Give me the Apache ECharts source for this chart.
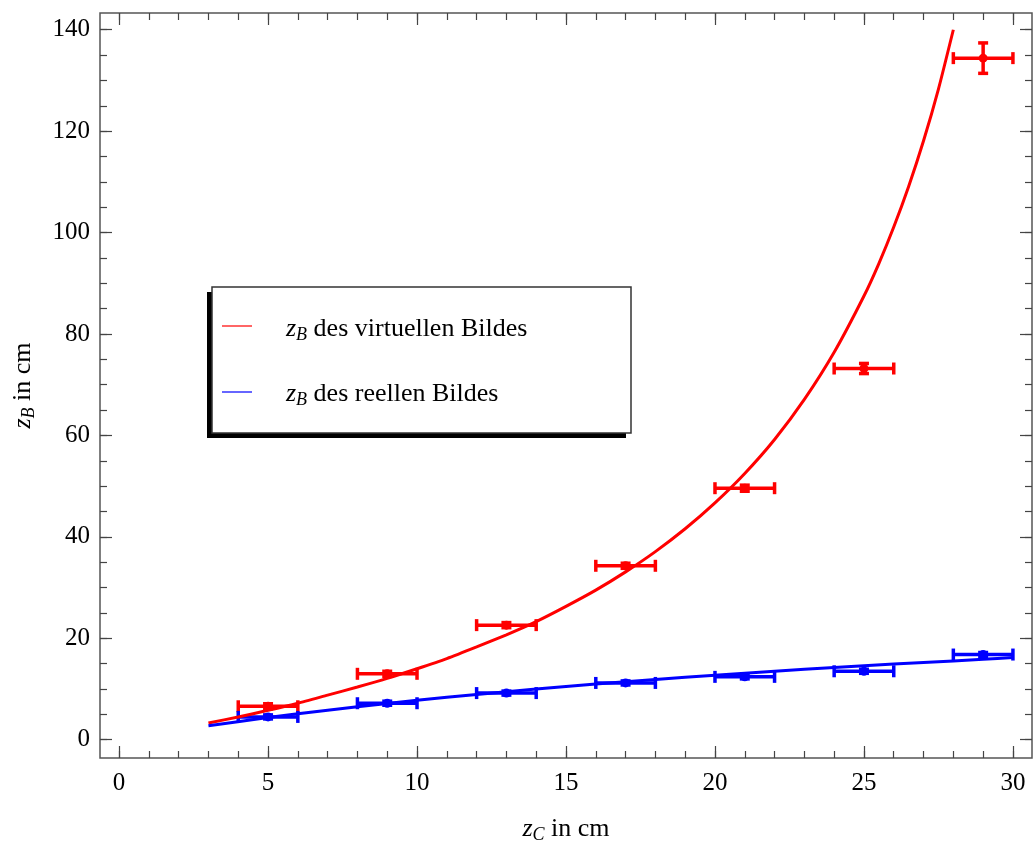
<!DOCTYPE html>
<html>
<head>
<meta charset="utf-8">
<script src="https://cdn.jsdelivr.net/npm/echarts@6/dist/echarts.min.js"></script>
<style>
  html, body { margin: 0; padding: 0; background: #fff; }
  #chart { width: 1036px; height: 847px; }
</style>
</head>
<body>
<div id="chart"></div>
<script>
// measured points (z_C with error, z_B with error)
var zC = [5, 9, 13, 17, 21, 25, 29];
var zCErr = [1, 1, 1, 1, 1, 1, 1];
var virtZB = [6.6, 13.0, 22.6, 34.3, 49.6, 73.2, 134.4];
var virtErr = [0.5, 0.5, 0.5, 0.5, 0.6, 1.0, 3.0];
var realZB = [4.5, 7.2, 9.2, 11.2, 12.4, 13.5, 16.8];
var realErr = [0.4, 0.4, 0.4, 0.4, 0.4, 0.4, 0.4];

// fit curves
var virtX = [3, 4, 5, 6, 7, 8, 9, 10, 11, 12, 13, 14, 15, 16, 17, 18, 19, 20, 21, 22, 23, 24, 25, 25.5, 26, 26.5, 27, 27.5, 28];
var virtCurve = [3.3, 4.5, 5.8, 7.2, 8.8, 10.4, 12.1, 14.0, 16.0, 18.3, 20.7, 23.3, 26.3, 29.5, 33.1, 37.1, 41.6, 46.7, 52.5, 59.2, 67.1, 76.4, 87.5, 93.9, 101.1, 109.1, 118.1, 128.3, 140.0];
var realX = [3, 5, 7, 9, 11, 13, 15, 17, 19, 21, 23, 25, 27, 29, 30];
var realCurve = [2.76, 4.38, 5.83, 7.16, 8.37, 9.48, 10.5, 11.45, 12.31, 13.13, 13.88, 14.58, 15.24, 15.86, 16.2];

// ticks
var xMajor = [0, 5, 10, 15, 20, 25, 30];
var xMinor = [0, 1, 2, 3, 4, 5, 6, 7, 8, 9, 10, 11, 12, 13, 14, 15, 16, 17, 18, 19, 20, 21, 22, 23, 24, 25, 26, 27, 28, 29, 30];
var yMajor = [0, 20, 40, 60, 80, 100, 120, 140];
var yMinor = [0, 5, 10, 15, 20, 25, 30, 35, 40, 45, 50, 55, 60, 65, 70, 75, 80, 85, 90, 95, 100, 105, 110, 115, 120, 125, 130, 135, 140];

var xMin = -0.64, xMax = 30.64, yMin = -3.6, yMax = 143.3;
var font = "'Liberation Serif', 'Times New Roman', serif";
var tickColor = '#444';

function pairs(xs, ys) {
    return xs.map(function (x, i) { return [x, ys[i]]; });
}
function errData(ys, errs) {
    return zC.map(function (x, i) { return [x, ys[i], zCErr[i], errs[i]]; });
}

function errRender(color) {
    return function (params, api) {
        var x = api.value(0), y = api.value(1), dx = api.value(2), dy = api.value(3);
        var c = api.coord([x, y]);
        var l = api.coord([x - dx, y]), r = api.coord([x + dx, y]);
        var t = api.coord([x, y + dy]), b = api.coord([x, y - dy]);
        var st = {stroke: color, lineWidth: 3.5};
        var cap = 6, vcap = 5;
        return {
            type: 'group',
            children: [
                {type: 'line', shape: {x1: l[0], y1: l[1], x2: r[0], y2: r[1]}, style: st},
                {type: 'line', shape: {x1: l[0], y1: l[1] - cap, x2: l[0], y2: l[1] + cap}, style: st},
                {type: 'line', shape: {x1: r[0], y1: r[1] - cap, x2: r[0], y2: r[1] + cap}, style: st},
                {type: 'line', shape: {x1: t[0], y1: t[1], x2: b[0], y2: b[1]}, style: st},
                {type: 'line', shape: {x1: t[0] - vcap, y1: t[1], x2: t[0] + vcap, y2: t[1]}, style: st},
                {type: 'line', shape: {x1: b[0] - vcap, y1: b[1], x2: b[0] + vcap, y2: b[1]}, style: st},
                {type: 'circle', shape: {cx: c[0], cy: c[1], r: 4.5}, style: {fill: color}}
            ]
        };
    };
}

function tickAxis(pos, values, len, gridIndex, isX, withLabels) {
    var a = {
        type: 'value',
        gridIndex: gridIndex,
        position: pos,
        min: isX ? xMin : yMin,
        max: isX ? xMax : yMax,
        axisLine: {show: false, onZero: false},
        splitLine: {show: false},
        axisTick: {show: true, inside: true, length: len, customValues: values,
            lineStyle: {color: tickColor, width: 1.2}},
        axisLabel: {show: false}
    };
    if (withLabels) {
        a.axisLabel = {show: true, customValues: values, color: '#000', fontFamily: font,
            fontSize: 25, margin: isX ? 13 : 10};
    }
    return a;
}

var richName = {
    i: {fontFamily: font, fontSize: 26, fontStyle: 'italic', color: '#000'},
    s: {fontFamily: font, fontSize: 18, fontStyle: 'italic', color: '#000', padding: [12, 0, 0, 0]},
    n: {fontFamily: font, fontSize: 26, color: '#000'}
};

var chart = echarts.init(document.getElementById('chart'), null, {renderer: 'canvas'});

var xAxes = [
    tickAxis('bottom', xMajor, 12, 0, true, true),
    tickAxis('top', xMajor, 12, 0, true, false),
    tickAxis('bottom', xMinor, 7, 1, true, false),
    tickAxis('top', xMinor, 7, 1, true, false)
];
xAxes[0].name = '{i|z}{s|C}{n| in cm}';
xAxes[0].nameLocation = 'middle';
xAxes[0].nameGap = 56;
xAxes[0].nameTextStyle = {rich: richName};

var yAxes = [
    tickAxis('left', yMajor, 12, 0, false, true),
    tickAxis('right', yMajor, 12, 0, false, false),
    tickAxis('left', yMinor, 7, 1, false, false),
    tickAxis('right', yMinor, 7, 1, false, false)
];
yAxes[0].name = '{i|z}{s|B}{n| in cm}';
yAxes[0].nameLocation = 'middle';
yAxes[0].nameGap = 62;
yAxes[0].nameTextStyle = {rich: richName};

var option = {
    animation: false,
    backgroundColor: '#fff',
    grid: [
        {left: 100, right: 4, top: 13, bottom: 89, outerBoundsMode: 'none', show: true,
            borderColor: '#555', borderWidth: 1.5, backgroundColor: 'transparent'},
        {left: 100, right: 4, top: 13, bottom: 89, outerBoundsMode: 'none'}
    ],
    xAxis: xAxes,
    yAxis: yAxes,
    series: [
        {
            name: 'virtErr', type: 'custom', xAxisIndex: 0, yAxisIndex: 0,
            renderItem: errRender('#ff0000'), data: errData(virtZB, virtErr), z: 3
        },
        {
            name: 'realErr', type: 'custom', xAxisIndex: 0, yAxisIndex: 0,
            renderItem: errRender('#0000ff'), data: errData(realZB, realErr), z: 3
        },
        {
            name: 'virtuell', type: 'line', xAxisIndex: 0, yAxisIndex: 0,
            data: pairs(virtX, virtCurve), showSymbol: false, smooth: 0.2,
            lineStyle: {color: '#ff0000', width: 3}, z: 4
        },
        {
            name: 'reell', type: 'line', xAxisIndex: 0, yAxisIndex: 0,
            data: pairs(realX, realCurve), showSymbol: false, smooth: 0.2,
            lineStyle: {color: '#0000ff', width: 3}, z: 4
        }
    ],
    graphic: [
        {
            type: 'group', x: 0, y: 0, z: 10,
            children: [
                {type: 'rect', shape: {x: 207, y: 292, width: 419, height: 146}, style: {fill: '#000'}},
                {type: 'rect', shape: {x: 212, y: 287, width: 419, height: 146},
                    style: {fill: '#fff', stroke: '#333', lineWidth: 1.5}},
                {type: 'line', shape: {x1: 222, y1: 326, x2: 252, y2: 326}, style: {stroke: '#ff0000', lineWidth: 1.2}},
                {type: 'line', shape: {x1: 222, y1: 392, x2: 252, y2: 392}, style: {stroke: '#0000ff', lineWidth: 1.2}},
                {type: 'text', x: 286, y: 329, style: {text: '{i|z}{s|B}{n| des virtuellen Bildes}', rich: richName, verticalAlign: 'middle'}},
                {type: 'text', x: 286, y: 394, style: {text: '{i|z}{s|B}{n| des reellen Bildes}', rich: richName, verticalAlign: 'middle'}}
            ]
        }
    ]
};
chart.setOption(option);
</script>
</body>
</html>
